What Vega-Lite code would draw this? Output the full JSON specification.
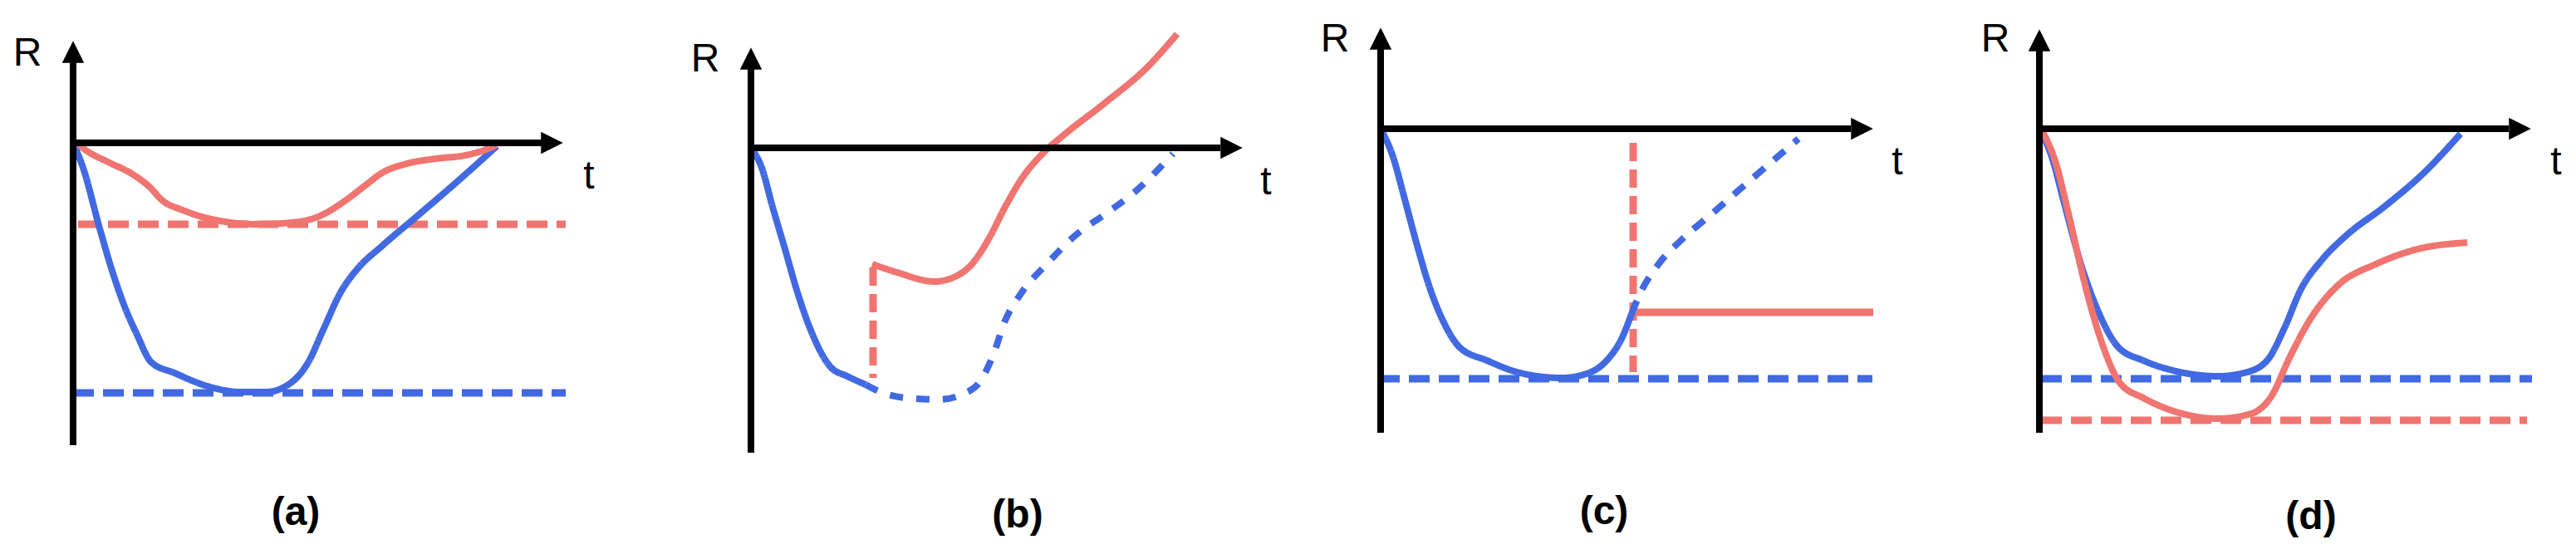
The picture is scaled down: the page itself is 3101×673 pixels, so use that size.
{
"$schema": "https://vega.github.io/schema/vega-lite/v6.json",
"background": "white",
"padding": 0,
"spacing": 0,
"bounds": "flush",
"config": {"view": {"stroke": null}},
"resolve": {"scale": {"x": "independent", "y": "independent", "color": "independent", "strokeDash": "independent", "shape": "independent"}},
"datasets": {
"all": [
{"panel":"a","kind":"axis","t":0,"R":-36.4,"t2":0,"R2":10.2},
{"panel":"a","kind":"axis","t":-0.4,"R":0,"t2":56.7,"R2":0},
{"panel":"a","kind":"arrow","dir":"up","t":0,"R":10.95},
{"panel":"a","kind":"arrow","dir":"right","t":57.65,"R":0},
{"panel":"a","kind":"axislabel","text":"R","t":-5.5,"R":9.3},
{"panel":"a","kind":"axislabel","text":"t","t":62.1,"R":-5.5},
{"panel":"a","kind":"caption","text":"(a)","t":26.8,"R":-46.0},
{"panel":"a","kind":"seg","series":"blue_bound","t":0,"R":-30.1,"t2":59.3,"R2":-30.1},
{"panel":"a","kind":"seg","series":"red_bound","t":0.6,"R":-9.8,"t2":59.3,"R2":-9.8},
{"panel":"a","kind":"curve","series":"blue","t":0,"R":0},
{"panel":"a","kind":"curve","series":"blue","t":1.2,"R":-3.0},
{"panel":"a","kind":"curve","series":"blue","t":3.2,"R":-10.3},
{"panel":"a","kind":"curve","series":"blue","t":4.7,"R":-15.4},
{"panel":"a","kind":"curve","series":"blue","t":6.2,"R":-19.7},
{"panel":"a","kind":"curve","series":"blue","t":7.7,"R":-23.1},
{"panel":"a","kind":"curve","series":"blue","t":9.4,"R":-26.4},
{"panel":"a","kind":"curve","series":"blue","t":12.2,"R":-27.7},
{"panel":"a","kind":"curve","series":"blue","t":16.2,"R":-29.3},
{"panel":"a","kind":"curve","series":"blue","t":20.2,"R":-30.0},
{"panel":"a","kind":"curve","series":"blue","t":23.2,"R":-30.0},
{"panel":"a","kind":"curve","series":"blue","t":26.2,"R":-28.9},
{"panel":"a","kind":"curve","series":"blue","t":28.2,"R":-26.6},
{"panel":"a","kind":"curve","series":"blue","t":30.2,"R":-22.3},
{"panel":"a","kind":"curve","series":"blue","t":32.2,"R":-18.0},
{"panel":"a","kind":"curve","series":"blue","t":34.2,"R":-15.2},
{"panel":"a","kind":"curve","series":"blue","t":37.2,"R":-12.4},
{"panel":"a","kind":"curve","series":"blue","t":41.2,"R":-9.0},
{"panel":"a","kind":"curve","series":"blue","t":46.2,"R":-4.7},
{"panel":"a","kind":"curve","series":"blue","t":51.0,"R":-0.4},
{"panel":"a","kind":"curve","series":"red","t":0.4,"R":0},
{"panel":"a","kind":"curve","series":"red","t":1.7,"R":-1.0},
{"panel":"a","kind":"curve","series":"red","t":4.2,"R":-2.3},
{"panel":"a","kind":"curve","series":"red","t":7.2,"R":-3.8},
{"panel":"a","kind":"curve","series":"red","t":9.2,"R":-5.3},
{"panel":"a","kind":"curve","series":"red","t":10.7,"R":-6.9},
{"panel":"a","kind":"curve","series":"red","t":13.2,"R":-8.1},
{"panel":"a","kind":"curve","series":"red","t":17.2,"R":-9.3},
{"panel":"a","kind":"curve","series":"red","t":22.2,"R":-9.8},
{"panel":"a","kind":"curve","series":"red","t":27.2,"R":-9.5},
{"panel":"a","kind":"curve","series":"red","t":29.7,"R":-8.8},
{"panel":"a","kind":"curve","series":"red","t":32.7,"R":-7.0},
{"panel":"a","kind":"curve","series":"red","t":35.2,"R":-5.1},
{"panel":"a","kind":"curve","series":"red","t":37.2,"R":-3.6},
{"panel":"a","kind":"curve","series":"red","t":40.2,"R":-2.5},
{"panel":"a","kind":"curve","series":"red","t":43.7,"R":-1.9},
{"panel":"a","kind":"curve","series":"red","t":47.2,"R":-1.5},
{"panel":"a","kind":"curve","series":"red","t":49.7,"R":-0.8},
{"panel":"a","kind":"curve","series":"red","t":51.0,"R":-0.2},

{"panel":"b","kind":"axis","t":0,"R":-36.7,"t2":0,"R2":10.2},
{"panel":"b","kind":"axis","t":-0.4,"R":0,"t2":56.5,"R2":0},
{"panel":"b","kind":"arrow","dir":"up","t":0,"R":10.75},
{"panel":"b","kind":"arrow","dir":"right","t":57.85,"R":0},
{"panel":"b","kind":"axislabel","text":"R","t":-5.5,"R":9.2},
{"panel":"b","kind":"axislabel","text":"t","t":62.0,"R":-5.6},
{"panel":"b","kind":"caption","text":"(b)","t":32.1,"R":-45.7},
{"panel":"b","kind":"seg","series":"red_jump","t":14.7,"R":-14.4,"t2":14.7,"R2":-27.7},
{"panel":"b","kind":"curve","series":"blue","t":0,"R":0},
{"panel":"b","kind":"curve","series":"blue","t":1.3,"R":-2.4},
{"panel":"b","kind":"curve","series":"blue","t":2.6,"R":-7.1},
{"panel":"b","kind":"curve","series":"blue","t":4.1,"R":-12.2},
{"panel":"b","kind":"curve","series":"blue","t":5.6,"R":-17.4},
{"panel":"b","kind":"curve","series":"blue","t":7.1,"R":-21.7},
{"panel":"b","kind":"curve","series":"blue","t":9.6,"R":-26.4},
{"panel":"b","kind":"curve","series":"blue","t":11.6,"R":-27.5},
{"panel":"b","kind":"curve","series":"blue","t":13.8,"R":-28.5},
{"panel":"b","kind":"curve","series":"blue_proj","t":13.8,"R":-28.5},
{"panel":"b","kind":"curve","series":"blue_proj","t":15.6,"R":-29.4},
{"panel":"b","kind":"curve","series":"blue_proj","t":18.6,"R":-30.1},
{"panel":"b","kind":"curve","series":"blue_proj","t":22.6,"R":-30.3},
{"panel":"b","kind":"curve","series":"blue_proj","t":25.6,"R":-29.6},
{"panel":"b","kind":"curve","series":"blue_proj","t":27.6,"R":-28.1},
{"panel":"b","kind":"curve","series":"blue_proj","t":29.1,"R":-25.1},
{"panel":"b","kind":"curve","series":"blue_proj","t":30.6,"R":-20.8},
{"panel":"b","kind":"curve","series":"blue_proj","t":32.6,"R":-17.4},
{"panel":"b","kind":"curve","series":"blue_proj","t":35.6,"R":-14.0},
{"panel":"b","kind":"curve","series":"blue_proj","t":39.1,"R":-10.5},
{"panel":"b","kind":"curve","series":"blue_proj","t":42.6,"R":-8.0},
{"panel":"b","kind":"curve","series":"blue_proj","t":46.1,"R":-5.4},
{"panel":"b","kind":"curve","series":"blue_proj","t":50.8,"R":-0.7},
{"panel":"b","kind":"curve","series":"red","t":14.6,"R":-14.0},
{"panel":"b","kind":"curve","series":"red","t":17.6,"R":-15.0},
{"panel":"b","kind":"curve","series":"red","t":22.1,"R":-16.1},
{"panel":"b","kind":"curve","series":"red","t":24.6,"R":-15.5},
{"panel":"b","kind":"curve","series":"red","t":26.6,"R":-14.0},
{"panel":"b","kind":"curve","series":"red","t":28.6,"R":-11.0},
{"panel":"b","kind":"curve","series":"red","t":30.6,"R":-7.1},
{"panel":"b","kind":"curve","series":"red","t":32.6,"R":-3.7},
{"panel":"b","kind":"curve","series":"red","t":35.1,"R":-0.7},
{"panel":"b","kind":"curve","series":"red","t":37.6,"R":1.5},
{"panel":"b","kind":"curve","series":"red","t":42.6,"R":5.4},
{"panel":"b","kind":"curve","series":"red","t":47.6,"R":9.6},
{"panel":"b","kind":"curve","series":"red","t":51.3,"R":13.7},

{"panel":"c","kind":"axis","t":0,"R":-36.6,"t2":0,"R2":10.3},
{"panel":"c","kind":"axis","t":-0.4,"R":0,"t2":56.6,"R2":0},
{"panel":"c","kind":"arrow","dir":"up","t":0,"R":10.85},
{"panel":"c","kind":"arrow","dir":"right","t":57.95,"R":0},
{"panel":"c","kind":"axislabel","text":"R","t":-5.5,"R":9.3},
{"panel":"c","kind":"axislabel","text":"t","t":62.2,"R":-5.5},
{"panel":"c","kind":"caption","text":"(c)","t":26.9,"R":-47.6},
{"panel":"c","kind":"seg","series":"blue_bound","t":-0.2,"R":-30.1,"t2":59.2,"R2":-30.1},
{"panel":"c","kind":"seg","series":"red_jump","t":30.4,"R":-1.7,"t2":30.4,"R2":-29.3},
{"panel":"c","kind":"seg","series":"red","t":30.8,"R":-22.1,"t2":59.3,"R2":-22.1},
{"panel":"c","kind":"curve","series":"blue","t":0,"R":0},
{"panel":"c","kind":"curve","series":"blue","t":1.5,"R":-3.4},
{"panel":"c","kind":"curve","series":"blue","t":2.8,"R":-8.1},
{"panel":"c","kind":"curve","series":"blue","t":4.3,"R":-13.7},
{"panel":"c","kind":"curve","series":"blue","t":5.8,"R":-18.8},
{"panel":"c","kind":"curve","series":"blue","t":7.5,"R":-23.1},
{"panel":"c","kind":"curve","series":"blue","t":9.5,"R":-26.3},
{"panel":"c","kind":"curve","series":"blue","t":12.8,"R":-27.9},
{"panel":"c","kind":"curve","series":"blue","t":16.8,"R":-29.4},
{"panel":"c","kind":"curve","series":"blue","t":21.8,"R":-30.0},
{"panel":"c","kind":"curve","series":"blue","t":25.3,"R":-29.3},
{"panel":"c","kind":"curve","series":"blue","t":27.3,"R":-27.8},
{"panel":"c","kind":"curve","series":"blue","t":29.0,"R":-25.3},
{"panel":"c","kind":"curve","series":"blue","t":30.2,"R":-22.3},
{"panel":"c","kind":"curve","series":"blue_proj","t":30.2,"R":-22.3},
{"panel":"c","kind":"curve","series":"blue_proj","t":31.3,"R":-19.7},
{"panel":"c","kind":"curve","series":"blue_proj","t":33.3,"R":-16.5},
{"panel":"c","kind":"curve","series":"blue_proj","t":36.3,"R":-13.3},
{"panel":"c","kind":"curve","series":"blue_proj","t":39.8,"R":-10.3},
{"panel":"c","kind":"curve","series":"blue_proj","t":43.8,"R":-6.8},
{"panel":"c","kind":"curve","series":"blue_proj","t":47.3,"R":-3.8},
{"panel":"c","kind":"curve","series":"blue_proj","t":50.3,"R":-1.2},

{"panel":"d","kind":"axis","t":0,"R":-36.6,"t2":0,"R2":10.1},
{"panel":"d","kind":"axis","t":-0.4,"R":0,"t2":56.5,"R2":0},
{"panel":"d","kind":"arrow","dir":"up","t":0,"R":10.65},
{"panel":"d","kind":"arrow","dir":"right","t":57.85,"R":0},
{"panel":"d","kind":"axislabel","text":"R","t":-5.3,"R":9.3},
{"panel":"d","kind":"axislabel","text":"t","t":62.2,"R":-5.5},
{"panel":"d","kind":"caption","text":"(d)","t":32.7,"R":-48.2},
{"panel":"d","kind":"seg","series":"blue_bound","t":0.2,"R":-30.1,"t2":59.3,"R2":-30.1},
{"panel":"d","kind":"seg","series":"red_bound","t":0.2,"R":-35.1,"t2":58.7,"R2":-35.1},
{"panel":"d","kind":"curve","series":"blue","t":0,"R":0},
{"panel":"d","kind":"curve","series":"blue","t":1.5,"R":-3.4},
{"panel":"d","kind":"curve","series":"blue","t":3.0,"R":-9.0},
{"panel":"d","kind":"curve","series":"blue","t":5.0,"R":-16.3},
{"panel":"d","kind":"curve","series":"blue","t":7.0,"R":-21.8},
{"panel":"d","kind":"curve","series":"blue","t":9.5,"R":-26.3},
{"panel":"d","kind":"curve","series":"blue","t":12.5,"R":-27.9},
{"panel":"d","kind":"curve","series":"blue","t":16.5,"R":-29.2},
{"panel":"d","kind":"curve","series":"blue","t":21.5,"R":-29.8},
{"panel":"d","kind":"curve","series":"blue","t":25.0,"R":-29.3},
{"panel":"d","kind":"curve","series":"blue","t":27.5,"R":-27.8},
{"panel":"d","kind":"curve","series":"blue","t":29.5,"R":-24.0},
{"panel":"d","kind":"curve","series":"blue","t":31.5,"R":-19.3},
{"panel":"d","kind":"curve","series":"blue","t":34.0,"R":-15.8},
{"panel":"d","kind":"curve","series":"blue","t":37.0,"R":-12.8},
{"panel":"d","kind":"curve","series":"blue","t":41.5,"R":-9.4},
{"panel":"d","kind":"curve","series":"blue","t":46.5,"R":-5.1},
{"panel":"d","kind":"curve","series":"blue","t":50.7,"R":-0.6},
{"panel":"d","kind":"curve","series":"red","t":0.2,"R":0},
{"panel":"d","kind":"curve","series":"red","t":2.0,"R":-4.2},
{"panel":"d","kind":"curve","series":"red","t":3.5,"R":-10.2},
{"panel":"d","kind":"curve","series":"red","t":5.5,"R":-18.8},
{"panel":"d","kind":"curve","series":"red","t":7.5,"R":-25.7},
{"panel":"d","kind":"curve","series":"red","t":9.7,"R":-30.6},
{"panel":"d","kind":"curve","series":"red","t":12.5,"R":-32.4},
{"panel":"d","kind":"curve","series":"red","t":16.5,"R":-34.1},
{"panel":"d","kind":"curve","series":"red","t":21.5,"R":-34.9},
{"panel":"d","kind":"curve","series":"red","t":25.5,"R":-34.3},
{"panel":"d","kind":"curve","series":"red","t":28.0,"R":-32.1},
{"panel":"d","kind":"curve","series":"red","t":30.0,"R":-27.8},
{"panel":"d","kind":"curve","series":"red","t":32.5,"R":-23.1},
{"panel":"d","kind":"curve","series":"red","t":36.0,"R":-18.8},
{"panel":"d","kind":"curve","series":"red","t":40.5,"R":-16.3},
{"panel":"d","kind":"curve","series":"red","t":45.5,"R":-14.5},
{"panel":"d","kind":"curve","series":"red","t":51.5,"R":-13.7}
]
},
"data": {"name": "all"},
"hconcat": [
{
"width": 780, "height": 673,
"transform": [{"filter": "datum.panel === 'a'"}],
"layer": [
{"transform": [{"filter": "datum.kind === 'seg'"}], "mark": {"type": "rule", "strokeWidth": 9, "strokeCap": "butt"},
 "encoding": {"x": {"field": "t", "type": "quantitative", "scale": {"domain": [-8.8, 69.2], "nice": false, "zero": false}, "axis": null}, "x2": {"field": "t2"},
  "y": {"field": "R", "type": "quantitative", "scale": {"domain": [-50.1, 17.2], "nice": false, "zero": false}, "axis": null}, "y2": {"field": "R2"},
  "color": {"field": "series", "type": "nominal", "scale": {"domain": ["blue", "red", "blue_bound", "red_bound", "blue_proj", "red_jump"], "range": ["#4169E1", "#F07470", "#4169E1", "#F07470", "#4169E1", "#F07470"]}, "legend": null},
  "strokeDash": {"field": "series", "type": "nominal", "scale": {"domain": ["blue", "red", "blue_bound", "red_bound", "blue_proj", "red_jump"], "range": [[1, 0], [1, 0], [25, 11], [25, 11], [16, 16], [22, 10]]}, "legend": null}}},
{"transform": [{"filter": "datum.kind === 'curve'"}], "mark": {"type": "line", "interpolate": "monotone", "strokeWidth": 8, "strokeCap": "butt"},
 "encoding": {"x": {"field": "t", "type": "quantitative", "scale": {"domain": [-8.8, 69.2], "nice": false, "zero": false}, "axis": null},
  "y": {"field": "R", "type": "quantitative", "scale": {"domain": [-50.1, 17.2], "nice": false, "zero": false}, "axis": null},
  "color": {"field": "series", "type": "nominal", "scale": {"domain": ["blue", "red", "blue_bound", "red_bound", "blue_proj", "red_jump"], "range": ["#4169E1", "#F07470", "#4169E1", "#F07470", "#4169E1", "#F07470"]}, "legend": null},
  "strokeDash": {"field": "series", "type": "nominal", "scale": {"domain": ["blue", "red", "blue_bound", "red_bound", "blue_proj", "red_jump"], "range": [[1, 0], [1, 0], [25, 11], [25, 11], [16, 16], [22, 10]]}, "legend": null}}},
{"transform": [{"filter": "datum.kind === 'axis'"}], "mark": {"type": "rule", "color": "black", "strokeWidth": 8},
 "encoding": {"x": {"field": "t", "type": "quantitative", "scale": {"domain": [-8.8, 69.2], "nice": false, "zero": false}, "axis": null}, "x2": {"field": "t2"},
  "y": {"field": "R", "type": "quantitative", "scale": {"domain": [-50.1, 17.2], "nice": false, "zero": false}, "axis": null}, "y2": {"field": "R2"}}},
{"transform": [{"filter": "datum.kind === 'arrow'"}], "mark": {"type": "point", "filled": true, "color": "black", "opacity": 1, "size": 700, "strokeWidth": 0},
 "encoding": {"x": {"field": "t", "type": "quantitative", "scale": {"domain": [-8.8, 69.2], "nice": false, "zero": false}, "axis": null},
  "y": {"field": "R", "type": "quantitative", "scale": {"domain": [-50.1, 17.2], "nice": false, "zero": false}, "axis": null},
  "shape": {"field": "dir", "type": "nominal", "scale": {"domain": ["up", "right"], "range": ["M-1,1H1L0,-1Z", "M-1,-1L1,0L-1,1Z"]}, "legend": null}}},
{"transform": [{"filter": "datum.kind === 'axislabel'"}], "mark": {"type": "text", "font": "Liberation Sans", "fontSize": 48, "align": "center", "baseline": "alphabetic", "color": "black"},
 "encoding": {"x": {"field": "t", "type": "quantitative", "scale": {"domain": [-8.8, 69.2], "nice": false, "zero": false}, "axis": null},
  "y": {"field": "R", "type": "quantitative", "scale": {"domain": [-50.1, 17.2], "nice": false, "zero": false}, "axis": null}, "text": {"field": "text"}}},
{"transform": [{"filter": "datum.kind === 'caption'"}], "mark": {"type": "text", "font": "Liberation Sans", "fontSize": 48, "fontWeight": "bold", "align": "center", "baseline": "alphabetic", "color": "black"},
 "encoding": {"x": {"field": "t", "type": "quantitative", "scale": {"domain": [-8.8, 69.2], "nice": false, "zero": false}, "axis": null},
  "y": {"field": "R", "type": "quantitative", "scale": {"domain": [-50.1, 17.2], "nice": false, "zero": false}, "axis": null}, "text": {"field": "text"}}}
]
},
{
"width": 780, "height": 673,
"transform": [{"filter": "datum.panel === 'b'"}],
"layer": [
{"transform": [{"filter": "datum.kind === 'seg'"}], "mark": {"type": "rule", "strokeWidth": 9, "strokeCap": "butt"},
 "encoding": {"x": {"field": "t", "type": "quantitative", "scale": {"domain": [-12.4, 65.6], "nice": false, "zero": false}, "axis": null}, "x2": {"field": "t2"},
  "y": {"field": "R", "type": "quantitative", "scale": {"domain": [-49.5, 17.8], "nice": false, "zero": false}, "axis": null}, "y2": {"field": "R2"},
  "color": {"field": "series", "type": "nominal", "scale": {"domain": ["blue", "red", "blue_bound", "red_bound", "blue_proj", "red_jump"], "range": ["#4169E1", "#F07470", "#4169E1", "#F07470", "#4169E1", "#F07470"]}, "legend": null},
  "strokeDash": {"field": "series", "type": "nominal", "scale": {"domain": ["blue", "red", "blue_bound", "red_bound", "blue_proj", "red_jump"], "range": [[1, 0], [1, 0], [25, 11], [25, 11], [16, 16], [22, 10]]}, "legend": null}}},
{"transform": [{"filter": "datum.kind === 'curve'"}], "mark": {"type": "line", "interpolate": "monotone", "strokeWidth": 8, "strokeCap": "butt"},
 "encoding": {"x": {"field": "t", "type": "quantitative", "scale": {"domain": [-12.4, 65.6], "nice": false, "zero": false}, "axis": null},
  "y": {"field": "R", "type": "quantitative", "scale": {"domain": [-49.5, 17.8], "nice": false, "zero": false}, "axis": null},
  "color": {"field": "series", "type": "nominal", "scale": {"domain": ["blue", "red", "blue_bound", "red_bound", "blue_proj", "red_jump"], "range": ["#4169E1", "#F07470", "#4169E1", "#F07470", "#4169E1", "#F07470"]}, "legend": null},
  "strokeDash": {"field": "series", "type": "nominal", "scale": {"domain": ["blue", "red", "blue_bound", "red_bound", "blue_proj", "red_jump"], "range": [[1, 0], [1, 0], [25, 11], [25, 11], [16, 16], [22, 10]]}, "legend": null}}},
{"transform": [{"filter": "datum.kind === 'axis'"}], "mark": {"type": "rule", "color": "black", "strokeWidth": 8},
 "encoding": {"x": {"field": "t", "type": "quantitative", "scale": {"domain": [-12.4, 65.6], "nice": false, "zero": false}, "axis": null}, "x2": {"field": "t2"},
  "y": {"field": "R", "type": "quantitative", "scale": {"domain": [-49.5, 17.8], "nice": false, "zero": false}, "axis": null}, "y2": {"field": "R2"}}},
{"transform": [{"filter": "datum.kind === 'arrow'"}], "mark": {"type": "point", "filled": true, "color": "black", "opacity": 1, "size": 700, "strokeWidth": 0},
 "encoding": {"x": {"field": "t", "type": "quantitative", "scale": {"domain": [-12.4, 65.6], "nice": false, "zero": false}, "axis": null},
  "y": {"field": "R", "type": "quantitative", "scale": {"domain": [-49.5, 17.8], "nice": false, "zero": false}, "axis": null},
  "shape": {"field": "dir", "type": "nominal", "scale": {"domain": ["up", "right"], "range": ["M-1,1H1L0,-1Z", "M-1,-1L1,0L-1,1Z"]}, "legend": null}}},
{"transform": [{"filter": "datum.kind === 'axislabel'"}], "mark": {"type": "text", "font": "Liberation Sans", "fontSize": 48, "align": "center", "baseline": "alphabetic", "color": "black"},
 "encoding": {"x": {"field": "t", "type": "quantitative", "scale": {"domain": [-12.4, 65.6], "nice": false, "zero": false}, "axis": null},
  "y": {"field": "R", "type": "quantitative", "scale": {"domain": [-49.5, 17.8], "nice": false, "zero": false}, "axis": null}, "text": {"field": "text"}}},
{"transform": [{"filter": "datum.kind === 'caption'"}], "mark": {"type": "text", "font": "Liberation Sans", "fontSize": 48, "fontWeight": "bold", "align": "center", "baseline": "alphabetic", "color": "black"},
 "encoding": {"x": {"field": "t", "type": "quantitative", "scale": {"domain": [-12.4, 65.6], "nice": false, "zero": false}, "axis": null},
  "y": {"field": "R", "type": "quantitative", "scale": {"domain": [-49.5, 17.8], "nice": false, "zero": false}, "axis": null}, "text": {"field": "text"}}}
]
},
{
"width": 760, "height": 673,
"transform": [{"filter": "datum.panel === 'c'"}],
"layer": [
{"transform": [{"filter": "datum.kind === 'seg'"}], "mark": {"type": "rule", "strokeWidth": 9, "strokeCap": "butt"},
 "encoding": {"x": {"field": "t", "type": "quantitative", "scale": {"domain": [-10.2, 65.8], "nice": false, "zero": false}, "axis": null}, "x2": {"field": "t2"},
  "y": {"field": "R", "type": "quantitative", "scale": {"domain": [-51.8, 15.5], "nice": false, "zero": false}, "axis": null}, "y2": {"field": "R2"},
  "color": {"field": "series", "type": "nominal", "scale": {"domain": ["blue", "red", "blue_bound", "red_bound", "blue_proj", "red_jump"], "range": ["#4169E1", "#F07470", "#4169E1", "#F07470", "#4169E1", "#F07470"]}, "legend": null},
  "strokeDash": {"field": "series", "type": "nominal", "scale": {"domain": ["blue", "red", "blue_bound", "red_bound", "blue_proj", "red_jump"], "range": [[1, 0], [1, 0], [25, 11], [25, 11], [17, 15], [22, 10]]}, "legend": null}}},
{"transform": [{"filter": "datum.kind === 'curve'"}], "mark": {"type": "line", "interpolate": "monotone", "strokeWidth": 8, "strokeCap": "butt"},
 "encoding": {"x": {"field": "t", "type": "quantitative", "scale": {"domain": [-10.2, 65.8], "nice": false, "zero": false}, "axis": null},
  "y": {"field": "R", "type": "quantitative", "scale": {"domain": [-51.8, 15.5], "nice": false, "zero": false}, "axis": null},
  "color": {"field": "series", "type": "nominal", "scale": {"domain": ["blue", "red", "blue_bound", "red_bound", "blue_proj", "red_jump"], "range": ["#4169E1", "#F07470", "#4169E1", "#F07470", "#4169E1", "#F07470"]}, "legend": null},
  "strokeDash": {"field": "series", "type": "nominal", "scale": {"domain": ["blue", "red", "blue_bound", "red_bound", "blue_proj", "red_jump"], "range": [[1, 0], [1, 0], [25, 11], [25, 11], [17, 15], [22, 10]]}, "legend": null}}},
{"transform": [{"filter": "datum.kind === 'axis'"}], "mark": {"type": "rule", "color": "black", "strokeWidth": 8},
 "encoding": {"x": {"field": "t", "type": "quantitative", "scale": {"domain": [-10.2, 65.8], "nice": false, "zero": false}, "axis": null}, "x2": {"field": "t2"},
  "y": {"field": "R", "type": "quantitative", "scale": {"domain": [-51.8, 15.5], "nice": false, "zero": false}, "axis": null}, "y2": {"field": "R2"}}},
{"transform": [{"filter": "datum.kind === 'arrow'"}], "mark": {"type": "point", "filled": true, "color": "black", "opacity": 1, "size": 700, "strokeWidth": 0},
 "encoding": {"x": {"field": "t", "type": "quantitative", "scale": {"domain": [-10.2, 65.8], "nice": false, "zero": false}, "axis": null},
  "y": {"field": "R", "type": "quantitative", "scale": {"domain": [-51.8, 15.5], "nice": false, "zero": false}, "axis": null},
  "shape": {"field": "dir", "type": "nominal", "scale": {"domain": ["up", "right"], "range": ["M-1,1H1L0,-1Z", "M-1,-1L1,0L-1,1Z"]}, "legend": null}}},
{"transform": [{"filter": "datum.kind === 'axislabel'"}], "mark": {"type": "text", "font": "Liberation Sans", "fontSize": 48, "align": "center", "baseline": "alphabetic", "color": "black"},
 "encoding": {"x": {"field": "t", "type": "quantitative", "scale": {"domain": [-10.2, 65.8], "nice": false, "zero": false}, "axis": null},
  "y": {"field": "R", "type": "quantitative", "scale": {"domain": [-51.8, 15.5], "nice": false, "zero": false}, "axis": null}, "text": {"field": "text"}}},
{"transform": [{"filter": "datum.kind === 'caption'"}], "mark": {"type": "text", "font": "Liberation Sans", "fontSize": 48, "fontWeight": "bold", "align": "center", "baseline": "alphabetic", "color": "black"},
 "encoding": {"x": {"field": "t", "type": "quantitative", "scale": {"domain": [-10.2, 65.8], "nice": false, "zero": false}, "axis": null},
  "y": {"field": "R", "type": "quantitative", "scale": {"domain": [-51.8, 15.5], "nice": false, "zero": false}, "axis": null}, "text": {"field": "text"}}}
]
},
{
"width": 781, "height": 673,
"transform": [{"filter": "datum.panel === 'd'"}],
"layer": [
{"transform": [{"filter": "datum.kind === 'seg'"}], "mark": {"type": "rule", "strokeWidth": 9, "strokeCap": "butt"},
 "encoding": {"x": {"field": "t", "type": "quantitative", "scale": {"domain": [-13.5, 64.6], "nice": false, "zero": false}, "axis": null}, "x2": {"field": "t2"},
  "y": {"field": "R", "type": "quantitative", "scale": {"domain": [-51.8, 15.5], "nice": false, "zero": false}, "axis": null}, "y2": {"field": "R2"},
  "color": {"field": "series", "type": "nominal", "scale": {"domain": ["blue", "red", "blue_bound", "red_bound", "blue_proj", "red_jump"], "range": ["#4169E1", "#F07470", "#4169E1", "#F07470", "#4169E1", "#F07470"]}, "legend": null},
  "strokeDash": {"field": "series", "type": "nominal", "scale": {"domain": ["blue", "red", "blue_bound", "red_bound", "blue_proj", "red_jump"], "range": [[1, 0], [1, 0], [25, 11], [25, 11], [16, 16], [22, 10]]}, "legend": null}}},
{"transform": [{"filter": "datum.kind === 'curve'"}], "mark": {"type": "line", "interpolate": "monotone", "strokeWidth": 8, "strokeCap": "butt"},
 "encoding": {"x": {"field": "t", "type": "quantitative", "scale": {"domain": [-13.5, 64.6], "nice": false, "zero": false}, "axis": null},
  "y": {"field": "R", "type": "quantitative", "scale": {"domain": [-51.8, 15.5], "nice": false, "zero": false}, "axis": null},
  "color": {"field": "series", "type": "nominal", "scale": {"domain": ["blue", "red", "blue_bound", "red_bound", "blue_proj", "red_jump"], "range": ["#4169E1", "#F07470", "#4169E1", "#F07470", "#4169E1", "#F07470"]}, "legend": null},
  "strokeDash": {"field": "series", "type": "nominal", "scale": {"domain": ["blue", "red", "blue_bound", "red_bound", "blue_proj", "red_jump"], "range": [[1, 0], [1, 0], [25, 11], [25, 11], [16, 16], [22, 10]]}, "legend": null}}},
{"transform": [{"filter": "datum.kind === 'axis'"}], "mark": {"type": "rule", "color": "black", "strokeWidth": 8},
 "encoding": {"x": {"field": "t", "type": "quantitative", "scale": {"domain": [-13.5, 64.6], "nice": false, "zero": false}, "axis": null}, "x2": {"field": "t2"},
  "y": {"field": "R", "type": "quantitative", "scale": {"domain": [-51.8, 15.5], "nice": false, "zero": false}, "axis": null}, "y2": {"field": "R2"}}},
{"transform": [{"filter": "datum.kind === 'arrow'"}], "mark": {"type": "point", "filled": true, "color": "black", "opacity": 1, "size": 700, "strokeWidth": 0},
 "encoding": {"x": {"field": "t", "type": "quantitative", "scale": {"domain": [-13.5, 64.6], "nice": false, "zero": false}, "axis": null},
  "y": {"field": "R", "type": "quantitative", "scale": {"domain": [-51.8, 15.5], "nice": false, "zero": false}, "axis": null},
  "shape": {"field": "dir", "type": "nominal", "scale": {"domain": ["up", "right"], "range": ["M-1,1H1L0,-1Z", "M-1,-1L1,0L-1,1Z"]}, "legend": null}}},
{"transform": [{"filter": "datum.kind === 'axislabel'"}], "mark": {"type": "text", "font": "Liberation Sans", "fontSize": 48, "align": "center", "baseline": "alphabetic", "color": "black"},
 "encoding": {"x": {"field": "t", "type": "quantitative", "scale": {"domain": [-13.5, 64.6], "nice": false, "zero": false}, "axis": null},
  "y": {"field": "R", "type": "quantitative", "scale": {"domain": [-51.8, 15.5], "nice": false, "zero": false}, "axis": null}, "text": {"field": "text"}}},
{"transform": [{"filter": "datum.kind === 'caption'"}], "mark": {"type": "text", "font": "Liberation Sans", "fontSize": 48, "fontWeight": "bold", "align": "center", "baseline": "alphabetic", "color": "black"},
 "encoding": {"x": {"field": "t", "type": "quantitative", "scale": {"domain": [-13.5, 64.6], "nice": false, "zero": false}, "axis": null},
  "y": {"field": "R", "type": "quantitative", "scale": {"domain": [-51.8, 15.5], "nice": false, "zero": false}, "axis": null}, "text": {"field": "text"}}}
]
}
]
}
